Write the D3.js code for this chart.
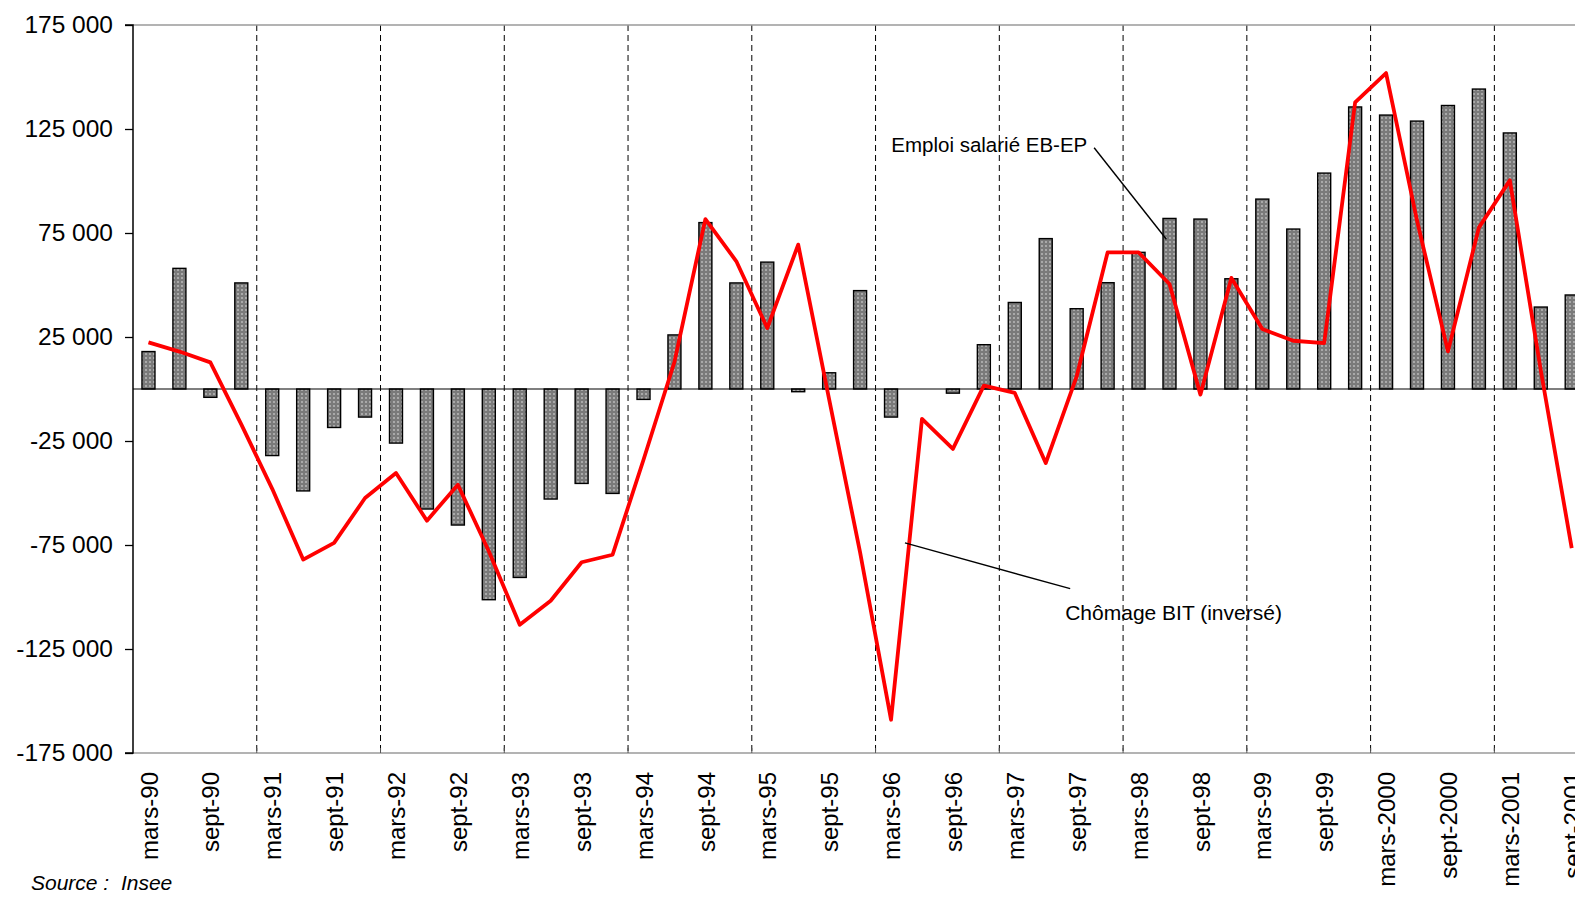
<!DOCTYPE html>
<html>
<head>
<meta charset="utf-8">
<script src="https://cdn.jsdelivr.net/npm/d3@7"></script>
<style>
    body { margin: 0; background: #fff; }
    svg { display: block; font-family: "Liberation Sans", Arial, sans-serif; }
</style>
</head>
<body>
<svg id="chart" width="1575" height="897"></svg>
<script>

// Quarters (end of quarter month)
const categories = [
    "mars-90", "juin-90", "sept-90", "déc-90",
    "mars-91", "juin-91", "sept-91", "déc-91",
    "mars-92", "juin-92", "sept-92", "déc-92",
    "mars-93", "juin-93", "sept-93", "déc-93",
    "mars-94", "juin-94", "sept-94", "déc-94",
    "mars-95", "juin-95", "sept-95", "déc-95",
    "mars-96", "juin-96", "sept-96", "déc-96",
    "mars-97", "juin-97", "sept-97", "déc-97",
    "mars-98", "juin-98", "sept-98", "déc-98",
    "mars-99", "juin-99", "sept-99", "déc-99",
    "mars-2000", "juin-2000", "sept-2000", "déc-2000",
    "mars-2001", "juin-2001", "sept-2001"
];

// Emploi salarié EB-EP (bars)
const emploi = [
    18000, 58000, -4000, 51000,
    -32000, -49000, -18500, -13500,
    -26000, -57700, -65400, -101300,
    -90600, -52900, -45400, -50200,
    -5000, 26000, 80000, 51000,
    61000, -1300, 7800, 47300,
    -13500, 0, -2000, 21300,
    41600, 72300, 38600, 51100,
    65700, 82000, 81700, 53000,
    91300, 76900, 103800, 135600,
    131700, 128800, 136300, 144200,
    123100, 39400, 45200
];

// Chômage BIT, inversé (line)
const chomage = [
    22400, 18000, 12800, -17000,
    -48000, -82000, -74000, -52400,
    -40400, -63300, -46000, -78000,
    -113300, -101800, -83300, -79700,
    -34000, 13000, 81700, 61400,
    29300, 69400, -5000, -78600,
    -159000, -14400, -28800, 1600,
    -1900, -35600, 6100, 65700,
    65700, 50500, -2700, 53400,
    28800, 23200, 22100, 137800,
    151900, 81000, 18100, 77600,
    100300, 9000, -76500
];

const yTicks = [-175000, -125000, -75000, -25000, 25000, 75000, 125000, 175000];

class ComboChart {

    constructor(identifier) {

        // Dimensions
        this.left = 133;
        this.top = 25;
        this.bottom = 753;
        this.step = 30.94;
        this.right = this.left + categories.length * this.step;

        this.svg = d3.select(`#${identifier}`);

        // Scales
        this.x = d3.scaleBand()
            .domain(categories)
            .range([this.left, this.right]);
        this.y = d3.scaleLinear()
            .domain([-175000, 175000])
            .range([this.bottom, this.top]);

        // Number format with space as thousands separator
        this.fmt = d3.formatLocale({
            decimal: ",", thousands: " ", grouping: [3],
            currency: ["", ""], minus: "-"
        }).format(",d");

        // Dotted bar fill
        const pattern = this.svg.append("defs")
            .append("pattern")
            .attr("id", "dots")
            .attr("width", 4)
            .attr("height", 4)
            .attr("patternUnits", "userSpaceOnUse");
        pattern.append("rect")
            .attr("width", 4)
            .attr("height", 4)
            .attr("fill", "#7a7a7a");
        pattern.append("circle")
            .attr("cx", 2)
            .attr("cy", 2)
            .attr("r", 0.9)
            .attr("fill", "#c0c0c0");
    }

    draw() {
        const x = this.x, y = this.y;
        const bw = x.bandwidth();
        const barWidth = bw * 0.42;

        // Year separators (dashed)
        const years = categories.filter((c, i) => i > 0 && c.startsWith("mars"));
        this.svg.append("g")
            .selectAll("line")
            .data(years)
            .enter()
            .append("line")
            .attr("x1", d => x(d))
            .attr("x2", d => x(d))
            .attr("y1", this.top)
            .attr("y2", this.bottom)
            .attr("stroke", "#000")
            .attr("stroke-width", 1)
            .attr("stroke-dasharray", "6,4");

        // Plot frame top and bottom (grey)
        this.svg.append("line")
            .attr("x1", this.left).attr("x2", this.right)
            .attr("y1", this.top).attr("y2", this.top)
            .attr("stroke", "#9a9a9a").attr("stroke-width", 1.5);
        this.svg.append("line")
            .attr("x1", this.left).attr("x2", this.right)
            .attr("y1", this.bottom).attr("y2", this.bottom)
            .attr("stroke", "#9a9a9a").attr("stroke-width", 1.5);

        // Small ticks on the bottom axis at each year
        this.svg.append("g")
            .selectAll("line")
            .data(years)
            .enter()
            .append("line")
            .attr("x1", d => x(d))
            .attr("x2", d => x(d))
            .attr("y1", this.bottom)
            .attr("y2", this.bottom - 5)
            .attr("stroke", "#555")
            .attr("stroke-width", 1);

        // Bars
        this.svg.append("g")
            .selectAll("rect")
            .data(emploi)
            .enter()
            .append("rect")
            .attr("x", (d, i) => x(categories[i]) + (bw - barWidth) / 2)
            .attr("y", d => y(Math.max(0, d)))
            .attr("width", barWidth)
            .attr("height", d => Math.abs(y(d) - y(0)))
            .attr("fill", "url(#dots)")
            .attr("stroke", "#000")
            .attr("stroke-width", 1.4);

        // Zero line
        this.svg.append("line")
            .attr("x1", this.left).attr("x2", this.right)
            .attr("y1", y(0)).attr("y2", y(0))
            .attr("stroke", "#000").attr("stroke-width", 1.2);

        // Y axis
        const yAxis = this.svg.append("g")
            .attr("transform", `translate(${this.left},0)`)
            .call(d3.axisLeft(y)
                .tickValues(yTicks)
                .tickSize(8)
                .tickPadding(12)
                .tickFormat(this.fmt));
        yAxis.select(".domain")
            .attr("stroke", "#000")
            .attr("stroke-width", 1.5)
            .attr("d", `M-8,${this.top}H0V${this.bottom}H-8`);
        yAxis.selectAll(".tick line")
            .attr("stroke", "#000")
            .attr("stroke-width", 1.3);
        yAxis.selectAll("text")
            .attr("fill", "#000")
            .style("font-size", "24.5px")
            .style("font-family", "\"Liberation Sans\", Arial, sans-serif");

        // X labels (every second quarter)
        const labelled = categories.filter(c => c.startsWith("mars") || c.startsWith("sept"));
        const xAxis = this.svg.append("g")
            .attr("transform", `translate(0,${this.bottom})`)
            .call(d3.axisBottom(x).tickValues(labelled).tickSize(0));
        xAxis.select(".domain").remove();
        xAxis.selectAll("text")
            .attr("transform", "rotate(-90)")
            .attr("x", -19)
            .attr("y", 0)
            .attr("dy", "0.38em")
            .attr("fill", "#000")
            .style("text-anchor", "end")
            .style("font-size", "24px")
            .style("font-family", "\"Liberation Sans\", Arial, sans-serif");

        // Line
        const line = d3.line()
            .x((d, i) => x(categories[i]) + bw / 2)
            .y(d => y(d));
        this.svg.append("path")
            .datum(chomage)
            .attr("d", line)
            .attr("fill", "none")
            .attr("stroke", "#ff0000")
            .attr("stroke-width", 3.8)
            .attr("stroke-linejoin", "round");

        // Annotations
        this.svg.append("line")
            .attr("x1", x("déc-97") + 2).attr("y1", y(116000))
            .attr("x2", x("juin-98") + bw * 0.4).attr("y2", y(72000))
            .attr("stroke", "#000").attr("stroke-width", 1.4);
        this.svg.append("text")
            .attr("x", x("mars-97") - 108)
            .attr("y", y(114000))
            .style("font-size", "20.5px")
            .text("Emploi salarié EB-EP");

        this.svg.append("line")
            .attr("x1", x("mars-96") + bw * 0.95).attr("y1", y(-74000))
            .attr("x2", x("sept-97") + 9).attr("y2", y(-96000))
            .attr("stroke", "#000").attr("stroke-width", 1.4);
        this.svg.append("text")
            .attr("x", x("sept-97") + 4)
            .attr("y", y(-111000))
            .style("font-size", "21px")
            .text("Chômage BIT (inversé)");

        // Source
        this.svg.append("text")
            .attr("x", 31)
            .attr("y", 890)
            .style("font-size", "21px")
            .style("font-style", "italic")
            .style("white-space", "pre")
            .text("Source :  Insee");
    }
}

const chart = new ComboChart("chart");
chart.draw();

</script>
</body>
</html>
